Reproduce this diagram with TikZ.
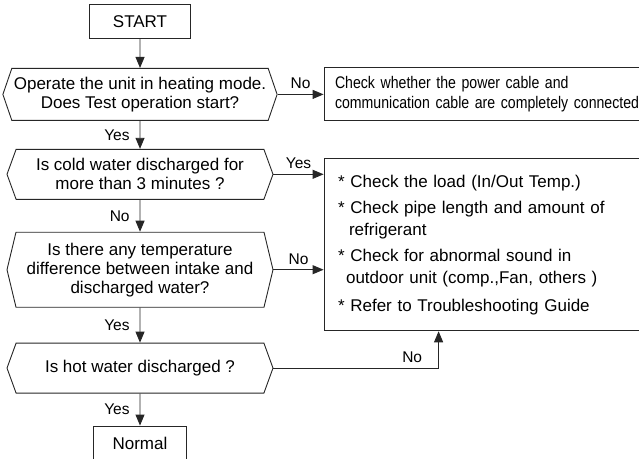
\documentclass[tikz,border=0pt]{standalone}
\usepackage{fontspec}
\setmainfont{Liberation Sans}
\newfontfamily\narrowfont{Liberation Sans}[FakeStretch=0.84]
\usepackage{tikz}
\usetikzlibrary{positioning,arrows.meta,shapes.symbols}

\begin{document}
\begin{tikzpicture}[
    node distance=30pt and 46pt,
    font=\fontsize{17}{19}\selectfont,
    line width=0.9pt,
    base_box/.style={draw=black!85, inner sep=4pt, align=center},
    term_box/.style={base_box, minimum height=34pt},
    decision/.style={base_box, signal, signal to=west and east, signal pointer angle=#1,
                     minimum width=266pt, inner xsep=2pt},
    decision/.default=140,
    check_box/.style={base_box, align=left, text width=310pt},
    arrow/.style={draw=black!85, -{Triangle[length=11pt,width=9pt]}},
    lbl/.style={font=\fontsize{15.5}{17}\selectfont, inner sep=2pt}
]
\useasboundingbox (0,0) rectangle (639pt,-458pt);
\clip (0,0) rectangle (639pt,-458pt);

% main column
\node (start)  [term_box, minimum width=101pt] at (140pt,-21.5pt) {START};
\node (heat)   [decision=142, minimum height=52pt, below=29pt of start]
    {Operate the unit in heating mode.\\Does Test operation start?};
\node (cold)   [decision, minimum height=50pt, below=28pt of heat]
    {Is cold water discharged for\\more than 3 minutes ?};
\node (diff)   [decision=153, minimum height=75pt, below=32pt of cold]
    {Is there any temperature\\difference between intake and\\discharged water?};
\node (hot)    [decision, minimum height=50pt, below=35pt of diff]
    {Is hot water discharged ?};
\node (normal) [term_box, minimum width=93pt, below=32pt of hot] {Normal};

% right column
\node (cable)  [check_box, minimum height=53pt, inner xsep=11pt, right=of heat,
                font=\narrowfont\fontsize{16.8}{20}\selectfont]
    {Check whether the power cable and\\communication cable are completely connected};
\node (guide)  [check_box, minimum height=172pt, inner xsep=14pt,
                below=37pt of cable.south west, anchor=north west,
                font=\fontsize{17}{22}\selectfont]
    {* Check the load (In/Out Temp.)\\[4pt]
     * Check pipe length and amount of\\
     \hspace*{11pt}refrigerant\\[4pt]
     * Check for abnormal sound in\\
     \hspace*{8pt}outdoor unit (comp.,Fan, others )\\[6pt]
     * Refer to Troubleshooting Guide};
\coordinate (back) at ([xshift=115pt]guide.south west);

\draw [arrow] (start) -- (heat);
\draw [arrow] (heat)  -- node[left=8pt, lbl] {Yes} (cold);
\draw [arrow] (cold)  -- node[left=8pt, lbl] {No} (diff);
\draw [arrow] (diff)  -- node[left=8pt, lbl] {Yes} (hot);
\draw [arrow] (hot)   -- node[left=8pt, lbl] {Yes} (normal);

\draw [arrow] (heat.east) -- node[above=3pt, lbl] {No} (cable.west);
\draw [arrow] (cold.east) -- node[above=3pt, lbl] {Yes} (cold.east -| guide.west);
\draw [arrow] (diff.east) -- node[above=3pt, lbl] {No} (diff.east -| guide.west);
\draw [arrow] (hot.east)  -| node[pos=0.42, above=3pt, lbl] {No} (back);

\end{tikzpicture}
\end{document}
